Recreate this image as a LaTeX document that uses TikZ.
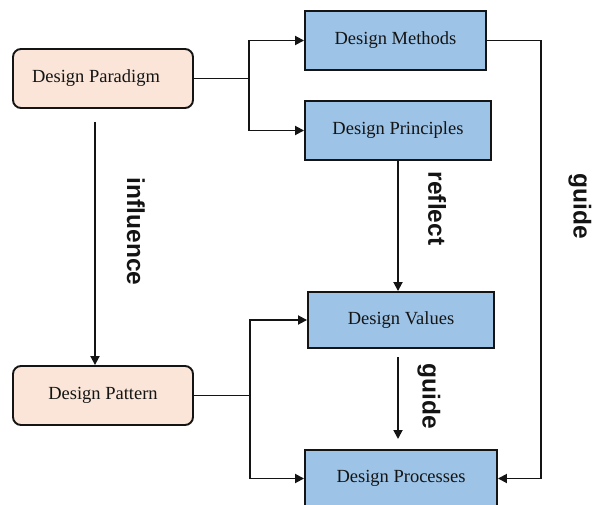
\documentclass[tikz,border=0pt]{standalone}
\usepackage{fontspec}
\setmainfont{Liberation Serif}
\newfontfamily\labfont{Liberation Sans}
\usetikzlibrary{arrows.meta}
\definecolor{peach}{HTML}{FAE5D8}
\definecolor{skyb}{HTML}{9DC3E6}
\definecolor{ink}{HTML}{141414}
\begin{document}
\begin{tikzpicture}[x=1pt,y=-1pt,
  conn/.style={draw=ink,line width=1.8pt},
  arr/.style={conn,-{Triangle[length=9pt,width=9pt]}},
  softbox/.style={draw=ink,line width=1.9pt,fill=peach,rounded corners=8pt,minimum width=180pt,minimum height=59pt,font=\fontsize{18.5}{20}\selectfont,text=ink,inner sep=0pt},
  bluebox/.style={draw=ink,line width=1.9pt,fill=skyb,minimum height=59pt,font=\fontsize{18.5}{20}\selectfont,text=ink,inner sep=0pt},
  lab/.style={font=\labfont\bfseries\fontsize{24.5}{26}\selectfont,text=ink,rotate=-90,inner sep=0pt}]
\useasboundingbox (0,0) rectangle (596,505);
\node[softbox] (par) at (103,78.5) {\hspace*{-14pt}Design Paradigm};
\node[softbox] (pat) at (103,395.5) {Design Pattern};
\node[bluebox,minimum width=181pt] (met) at (395.5,40.5) {Design Methods};
\node[bluebox,minimum width=186pt] (pri) at (398,130.5) {Design Principles};
\node[bluebox,minimum width=186pt,minimum height=56pt] (val) at (401,320) {Design Values};
\node[bluebox,minimum width=192pt,minimum height=57pt] (pro) at (401,478.5) {Design Processes};
% junctions
\coordinate (j1) at (249,78.5);
\coordinate (j2) at (250,395.5);
\draw[conn] (par.east) -- (j1);
\draw[arr] (j1) |- (met.west);
\draw[arr] (j1) |- (pri.west);
\draw[conn] (pat.east) -- (j2);
\draw[arr] (j2) |- (val.west);
\draw[arr] (j2) |- (pro.west);
% influence
\coordinate (i1) at (95,122);
\draw[arr] (i1) -- (i1 |- pat.north);
% reflect
\draw[arr] (pri.south) -- (pri.south |- val.north);
% guide middle
\coordinate (g1) at (398,357);
\coordinate (g2) at (398,439);
\draw[arr] (g1) -- (g2);
% guide right
\coordinate (r1) at (541,0);
\draw[arr] (met.east) -| (r1 |- pro.east) -- (pro.east);
% labels
\node[lab] (linf) at (136,231.5) {influence};
\node[lab] (lref) at (437,208.5) {reflect};
\node[lab] (lg1) at (580,206.5) {guide};
\node[lab] (lg2) at (429,396) {guide};
\end{tikzpicture}
\end{document}
